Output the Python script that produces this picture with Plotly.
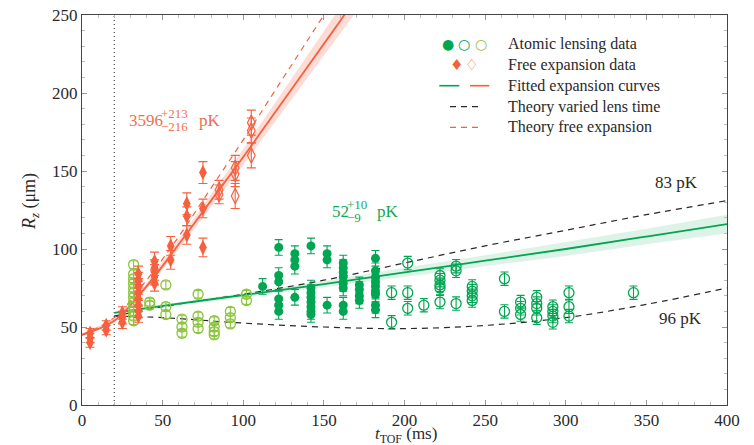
import plotly.graph_objects as go

# ---------------- data ----------------
# Free expansion data, filled diamonds
RED_FILLED_T = [5, 5, 5, 15, 15, 25, 25, 25, 35, 35, 35, 35, 35, 35, 35, 35,
                45, 45, 45, 45, 45, 55, 55, 65, 65, 65, 75, 75, 75]
RED_FILLED_R = [40, 43, 46, 48, 51, 53, 56, 59, 57, 60, 64, 68, 72, 76, 80, 84,
                78, 82, 85, 88, 92, 93, 102, 109, 121, 129, 101, 126, 149]
RED_FILLED_ERR = [3, 3, 3, 3, 3, 4, 4, 4, 4, 4, 4, 5, 5, 5, 5, 5,
                  5, 5, 5, 5, 6, 6, 6, 6, 6, 7, 6, 6, 7]

# Free expansion data, open diamonds
RED_OPEN_T = [85, 85, 95, 95, 95, 105, 105, 105]
RED_OPEN_R = [135, 138, 134, 148, 152, 160, 176, 181]
RED_OPEN_ERR = [6, 6, 8, 8, 8, 8, 8, 8]

# Atomic lensing data, light-green open circles (early)
LENS_EARLY_T = [32, 32, 32, 32, 32, 32, 32, 32, 32, 32, 32, 32,
                42, 42, 52, 52, 52, 62, 62, 62, 72, 72, 72, 72,
                82, 82, 82, 82, 92, 92, 92, 102, 102]
LENS_EARLY_R = [90, 84, 81, 78, 75, 72, 69, 66, 63, 60, 57, 54,
                64, 66, 77, 63, 58, 55, 50, 46, 71, 57, 53, 49,
                54, 50, 47, 45, 60, 56, 52, 71, 67]
LENS_EARLY_ERR = 2.5

# Atomic lensing data, dark-green filled circles
LENS_MID_T = [112, 122, 122, 122, 122, 122, 122, 132, 132, 132, 132,
              142, 142, 142, 142, 142, 142, 142, 142, 152, 152, 152,
              162, 162, 162, 162, 162, 162, 162, 162, 172, 172, 172, 172,
              182, 182, 182, 182, 182, 182, 182, 182, 182]
LENS_MID_R = [76, 101, 83, 79, 68, 64, 60, 97, 93, 89, 69,
              102, 75, 72, 69, 66, 63, 60, 58, 97, 93, 64,
              91, 88, 85, 82, 78, 75, 64, 60, 77, 74, 70, 67,
              94, 86, 82, 79, 76, 73, 71, 64, 61]
LENS_MID_ERR = 5

# Atomic lensing data, dark-green open circles (late)
LENS_LATE_T = [192, 192, 202, 202, 202, 212, 222, 222, 222, 222, 222,
               232, 232, 232, 242, 242, 242, 242, 262, 262, 272, 272, 272,
               282, 282, 282, 282, 292, 292, 292, 292, 302, 302, 302, 342]
LENS_LATE_R = [72, 53, 91, 72, 62, 64, 83, 80, 77, 75, 66,
               89, 86, 65, 76, 73, 70, 67, 81, 60, 66, 62, 58,
               69, 65, 62, 56, 63, 60, 57, 53, 72, 63, 57, 72]
LENS_LATE_ERR = 4.3

# Fitted expansion curves and their confidence bands
FIT_RED_T = [0, 20, 40, 60, 80, 100, 120, 140, 160, 170]
FIT_RED_R = [45, 54, 76, 103, 131, 159, 188, 217, 246, 261]
RED_BAND_LO = [44, 52.5, 74, 100, 127, 154, 182, 210, 238, 252]
RED_BAND_HI = [46, 55.5, 78, 106, 135, 164, 194, 224, 254, 270]

FIT_GREEN_T = [20, 50, 100, 150, 200, 250, 300, 350, 400]
FIT_GREEN_R = [59, 63.5, 70.5, 77.5, 85, 92.5, 100, 108, 116]
GREEN_BAND_LO = [58.5, 62.5, 69, 75.5, 82, 89, 95.5, 103, 110]
GREEN_BAND_HI = [59.5, 64.5, 72, 79.5, 88, 96, 104.5, 113, 122]

# Theory curves
THEORY_FREE_T = [0, 20, 40, 60, 80, 100, 120, 140, 160]
THEORY_FREE_R = [45, 56, 80, 108, 139, 170, 202, 234, 266]

THEORY_LENS_T = [20, 50, 100, 150, 200, 250, 300, 350, 400]
THEORY_83PK_R = [57, 63, 71, 80, 91, 102, 112, 122, 131]
THEORY_96PK_R = [57, 56, 52.5, 50, 49, 51, 56, 64.5, 75]

LENS_TIME = 20
X_RANGE = [0, 400]
Y_RANGE = [0, 250]

# ---------------- styles ----------------
RED = "#f6603e"
GREEN = "#00a651"
LIGHT_GREEN = "#8cc63f"
DARK = "#2a2a2a"
FONT = "Liberation Serif, Times New Roman, serif"

fig = go.Figure()

# confidence bands
fig.add_trace(go.Scatter(
    x=FIT_GREEN_T + FIT_GREEN_T[::-1], y=GREEN_BAND_HI + GREEN_BAND_LO[::-1],
    fill="toself", fillcolor="rgba(0,166,81,0.13)", line=dict(width=0),
    mode="lines", hoverinfo="skip", showlegend=False))
fig.add_trace(go.Scatter(
    x=FIT_RED_T + FIT_RED_T[::-1], y=RED_BAND_HI + RED_BAND_LO[::-1],
    fill="toself", fillcolor="rgba(246,96,62,0.22)", line=dict(width=0),
    mode="lines", hoverinfo="skip", showlegend=False))

# theory curves
for ys in (THEORY_83PK_R, THEORY_96PK_R):
    fig.add_trace(go.Scatter(x=THEORY_LENS_T, y=ys, mode="lines",
                             line=dict(color=DARK, width=1.2, dash="6px,5px", shape="spline"),
                             showlegend=False))
fig.add_trace(go.Scatter(x=THEORY_FREE_T, y=THEORY_FREE_R, mode="lines",
                         line=dict(color=RED, width=1.2, dash="6px,5px", shape="spline"),
                         showlegend=False))

# fitted curves
fig.add_trace(go.Scatter(x=FIT_GREEN_T, y=FIT_GREEN_R, mode="lines",
                         line=dict(color=GREEN, width=1.8, shape="spline"), showlegend=False))
fig.add_trace(go.Scatter(x=FIT_RED_T, y=FIT_RED_R, mode="lines",
                         line=dict(color=RED, width=1.8, shape="spline"), showlegend=False))

# data
fig.add_trace(go.Scatter(
    x=LENS_EARLY_T, y=LENS_EARLY_R, mode="markers",
    marker=dict(symbol="circle-open", size=10, color=LIGHT_GREEN, line=dict(width=1.3)),
    error_y=dict(type="constant", value=LENS_EARLY_ERR, color=LIGHT_GREEN, thickness=1.1, width=4),
    showlegend=False))
fig.add_trace(go.Scatter(
    x=LENS_LATE_T, y=LENS_LATE_R, mode="markers",
    marker=dict(symbol="circle-open", size=10, color=GREEN, line=dict(width=1.3)),
    error_y=dict(type="constant", value=LENS_LATE_ERR, color=GREEN, thickness=1.1, width=4),
    showlegend=False))
fig.add_trace(go.Scatter(
    x=LENS_MID_T, y=LENS_MID_R, mode="markers",
    marker=dict(symbol="circle", size=9, color=GREEN),
    error_y=dict(type="constant", value=LENS_MID_ERR, color=GREEN, thickness=1.1, width=4),
    showlegend=False))
fig.add_trace(go.Scatter(
    x=RED_OPEN_T, y=RED_OPEN_R, mode="markers",
    marker=dict(symbol="diamond-tall-open", size=11, color=RED, line=dict(width=1.2)),
    error_y=dict(type="data", array=RED_OPEN_ERR, color=RED, thickness=1.1, width=4.5),
    showlegend=False))
fig.add_trace(go.Scatter(
    x=RED_FILLED_T, y=RED_FILLED_R, mode="markers",
    marker=dict(symbol="diamond-tall", size=11, color=RED),
    error_y=dict(type="data", array=RED_FILLED_ERR, color=RED, thickness=1.1, width=4.5),
    showlegend=False))

# lens time marker
fig.add_vline(x=LENS_TIME, line=dict(color="#444", width=1.2, dash="1px,3px"), layer="below")

# ---------------- annotations ----------------
ann = []


def txt(x, y, s, size=17, color=DARK, xanchor="center", family=FONT, angle=0):
    ann.append(dict(x=x, y=y, xref="paper", yref="paper", text=s, showarrow=False,
                    xanchor=xanchor, yanchor="middle", textangle=angle, borderpad=0,
                    font=dict(family=family, size=size, color=color)))


def px_x(px):
    return (px - 82) / 645


def px_y(py):
    return (405 - py) / 390


# temperature labels
txt(px_x(676), px_y(182), "83 pK", 17)
txt(px_x(680), px_y(318), "96 pK", 17)
RED_TXT = "#f07050"
txt(px_x(164), px_y(120), "3596", 17, RED_TXT, "right")
txt(px_x(160), px_y(113), "+213", 13, RED_TXT, "left")
txt(px_x(160), px_y(127), "−216", 13, RED_TXT, "left")
txt(px_x(198), px_y(120), "pK", 17, RED_TXT, "left")
GREEN_TXT = "#13a85b"
txt(px_x(350), px_y(211), "52", 17, GREEN_TXT, "right")
txt(px_x(346), px_y(204), "+10", 13, GREEN_TXT, "left")
txt(px_x(346), px_y(218), "−9", 13, GREEN_TXT, "left")
txt(px_x(376), px_y(211), "pK", 17, GREEN_TXT, "left")

# legend (custom box)
LX0, LX1, LY0, LY1 = px_x(430.7), px_x(711), px_y(143.3), px_y(29.3)
ROWS = [px_y(v) for v in (44, 65, 85.7, 106.7, 127.3)]
TEXT_X = px_x(507.3)
LEGEND_LABELS = ["Atomic lensing data", "Free expansion data", "Fitted expansion curves",
                 "Theory varied lens time", "Theory free expansion"]
for r, lab in zip(ROWS, LEGEND_LABELS):
    txt(TEXT_X, r, lab, 16, DARK, "left")

GL = "DejaVu Sans"
txt(px_x(447.7), ROWS[0], "●", 14, GREEN, family=GL)
txt(px_x(464), ROWS[0], "○", 14, GREEN, family=GL)
txt(px_x(480.7), ROWS[0], "○", 14, LIGHT_GREEN, family=GL)
txt(px_x(456), ROWS[1], "♦", 15, RED, family=GL)
txt(px_x(471.7), ROWS[1], "♢", 15, RED, family=GL)

# axis titles placed as text
txt(px_x(31), px_y(202), "<i>R</i><sub><i>z</i></sub> (μm)", 18, DARK, angle=-90)
txt(px_x(406), px_y(435), "<i>t</i><sub>TOF</sub> (ms)", 17, DARK)

shapes = [dict(type="rect", xref="paper", yref="paper", x0=LX0, x1=LX1, y0=LY0, y1=LY1,
               line=dict(color="#333", width=1), fillcolor="white", layer="above")]


def seg(px0, px1, row, color, dash="solid", width=1.6):
    shapes.append(dict(type="line", xref="paper", yref="paper",
                       x0=px_x(px0), x1=px_x(px1), y0=row, y1=row,
                       line=dict(color=color, width=width, dash=dash), layer="above"))


seg(439.3, 459.3, ROWS[2], GREEN)
seg(470, 489.3, ROWS[2], RED)
seg(450, 478.3, ROWS[3], DARK, "6px,5px", 1.3)
seg(450, 478.3, ROWS[4], RED, "6px,5px", 1.3)

axis_common = dict(
    showline=True, linecolor="#444", linewidth=1, mirror="allticks",
    ticks="inside", ticklen=5, tickcolor="#999", tickwidth=1,
    showgrid=False, zeroline=False, automargin=False,
    tickfont=dict(family=FONT, size=17, color=DARK),
)

fig.update_layout(
    width=754, height=445,
    margin=dict(l=82, r=27, t=15, b=40),
    paper_bgcolor="white", plot_bgcolor="white",
    showlegend=False,
    annotations=ann, shapes=shapes,
    xaxis=dict(range=X_RANGE, tick0=0, dtick=50, ticklabelstandoff=0,
               minor=dict(dtick=10, ticks="inside", ticklen=3, tickcolor="#bbb"),
               **axis_common),
    yaxis=dict(range=Y_RANGE, tick0=0, dtick=50,
               minor=dict(dtick=10, ticks="inside", ticklen=3, tickcolor="#bbb"),
               **axis_common),
)

fig.write_html("out.html")
